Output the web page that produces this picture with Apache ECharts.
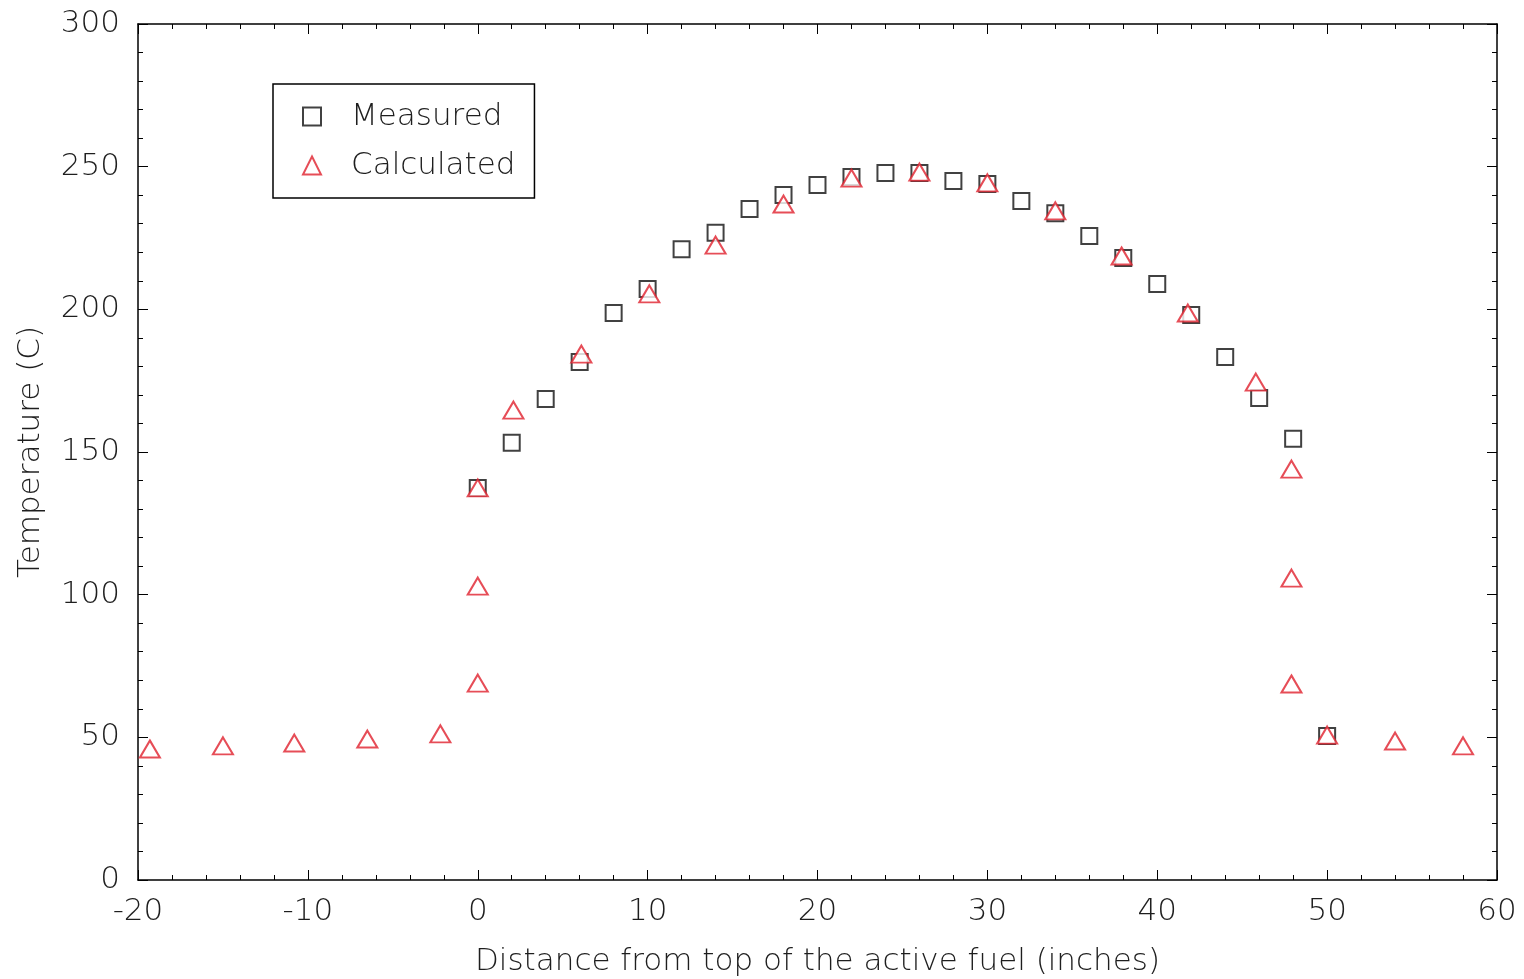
<!DOCTYPE html>
<html>
<head>
<meta charset="utf-8">
<script src="https://cdn.jsdelivr.net/npm/echarts@6/dist/echarts.min.js"></script>
<style>html,body{margin:0;padding:0;background:#fff}#main{width:1524px;height:979px}</style>
</head>
<body>
<div id="main"></div>
<script>
// measured thermocouple readings (x inches, temperature C)
var measuredX = [0, 2, 4, 6, 8, 10, 12, 14, 16, 18, 20, 22, 24, 26, 28, 30, 32, 34, 36, 38, 40, 42, 44, 46, 48, 50];
var measuredY = [137.4, 153.2, 168.6, 181.5, 198.7, 207.1, 221.1, 226.8, 235.2, 240.1, 243.6, 246.4, 247.8, 247.8, 245.0, 243.9, 238.0, 233.7, 225.7, 218.0, 208.9, 198.0, 183.3, 168.9, 154.6, 50.5];
// calculated values
var calcX = [-19.3, -15.0, -10.8, -6.5, -2.2, 0, 0, 0, 2.1, 6.1, 10.1, 14, 18, 22, 26, 30, 34, 37.9, 41.8, 45.8, 47.9, 47.9, 47.9, 50, 54, 58];
var calcY = [45.9, 47.0, 48.0, 49.4, 51.2, 69.0, 103.0, 137.4, 164.7, 184.3, 205.4, 222.5, 236.9, 246.0, 248.1, 244.3, 234.5, 218.7, 198.7, 174.5, 144.0, 105.8, 68.7, 50.8, 48.7, 47.0];

function pairs(xs, ys) {
    var out = [];
    for (var i = 0; i < xs.length; i++) out.push([xs[i], ys[i]]);
    return out;
}

var fontFam = 'DejaVu Sans';
var txt = '#1e1e1e';
var fs = 31;
var fw = 200;

// same inward ticks on all four sides
function frameAxis(extra) {
    var a = {
        type: 'value',
        axisLine: {show: true, onZero: false, lineStyle: {color: '#000', width: 1.5}},
        axisTick: {show: true, inside: true, length: 10, lineStyle: {color: '#000'}},
        minorTick: {show: true, splitNumber: 5, length: 5, lineStyle: {color: '#000'}},
        splitLine: {show: false}
    };
    for (var k in extra) a[k] = extra[k];
    return a;
}

var chart = echarts.init(document.getElementById('main'));
var option = {
    animation: false,
    textStyle: {fontFamily: fontFam},
    grid: {left: 138, right: 27, top: 24, bottom: 99, outerBoundsMode: 'none', containLabel: false},
    legend: {
        left: 273, top: 84,
        orient: 'vertical',
        padding: [17, 19, 17, 29],
        itemGap: 18,
        itemWidth: 18, itemHeight: 18,
        borderColor: '#000', borderWidth: 1.5, borderRadius: 0,
        textStyle: {fontSize: fs, fontWeight: fw, lineHeight: 31, color: txt, fontFamily: fontFam, padding: [0, 0, 0, 25]},
        data: ['Measured', 'Calculated']
    },
    xAxis: [
        frameAxis({
            min: -20, max: 60, interval: 10,
            name: 'Distance from top of the active fuel (inches)',
            nameLocation: 'middle', nameGap: 66,
            nameTextStyle: {fontSize: fs, fontWeight: fw, color: txt},
            axisLabel: {fontSize: fs, fontWeight: fw, color: txt, margin: 16}
        }),
        frameAxis({min: -20, max: 60, interval: 10, position: 'top', axisLabel: {show: false}})
    ],
    yAxis: [
        frameAxis({
            min: 0, max: 300, interval: 50,
            name: 'Temperature (C)',
            nameLocation: 'middle', nameGap: 92,
            nameTextStyle: {fontSize: fs, fontWeight: fw, color: txt},
            axisLabel: {fontSize: fs, fontWeight: fw, color: txt, margin: 18}
        }),
        frameAxis({min: 0, max: 300, interval: 50, position: 'right', axisLabel: {show: false}})
    ],
    series: [{
        name: 'Measured',
        type: 'scatter',
        symbol: 'emptyRect',
        symbolSize: 16,
        itemStyle: {color: '#111', borderWidth: 2},
        data: pairs(measuredX, measuredY),
        z: 2
    }, {
        name: 'Calculated',
        type: 'scatter',
        symbol: 'emptyTriangle',
        symbolSize: [20, 17],
        itemStyle: {color: '#e0212d', borderWidth: 2},
        data: pairs(calcX, calcY),
        z: 3
    }]
};
chart.setOption(option);
</script>
</body>
</html>
